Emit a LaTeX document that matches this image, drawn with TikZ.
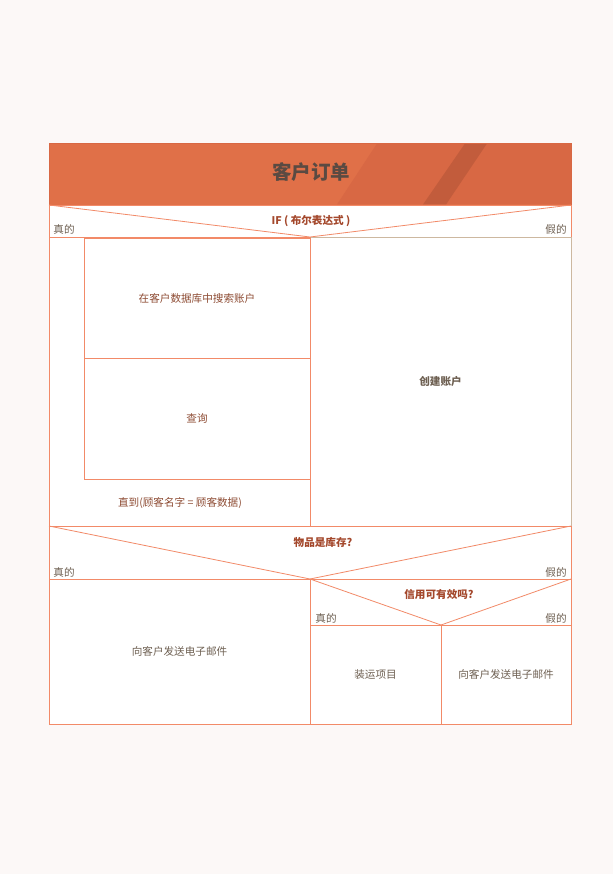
\documentclass[tikz,border=0pt]{standalone}
\usepackage{fontspec}
\setmainfont{Noto Sans CJK SC}
\definecolor{bgc}{HTML}{FCF8F7}
\definecolor{hdr}{HTML}{E07048}
\definecolor{hdrdark}{HTML}{D86844}
\definecolor{stripe}{HTML}{C25C3C}
\definecolor{edge}{HTML}{F28A68}
\definecolor{tan}{HTML}{CDB8A0}
\definecolor{qtext}{HTML}{A4482C}
\definecolor{btext}{HTML}{8E4C34}
\definecolor{gtext}{HTML}{6E6052}
\definecolor{ttext}{HTML}{5A4A42}
\tikzset{
  box/.style={draw=edge, line width=0.9pt, fill=white, inner sep=0pt, outer sep=0pt, anchor=north west, font=\fontsize{10.6}{12}\selectfont, text=btext},
  lbl/.style={inner sep=0pt, font=\fontsize{10.6}{12}\selectfont, text=gtext},
  qlbl/.style={inner sep=0pt, font=\fontsize{10.6}{12}\selectfont\bfseries, text=qtext},
  tri/.style={draw=edge, line width=0.8pt}
}
\begin{document}
\begin{tikzpicture}[x=1pt,y=-1pt]
\useasboundingbox[fill=bgc] (0,0) rectangle (613,874);
% header
\node[box, draw=hdrdark, fill=hdr, minimum width=522pt, minimum height=62pt] (hdr) at (49,143) {};
\fill[hdrdark] (377,143.5) -- (570.5,143.5) -- (570.5,204.5) -- (337,204.5) -- cycle;
\fill[stripe] (465,143.5) -- (487,143.5) -- (446,204.5) -- (423,204.5) -- cycle;
\draw[hdrdark, line width=0.9pt] (hdr.north west) rectangle (hdr.south east);
\node[inner sep=0pt, font=\fontsize{19.5}{22}\selectfont\bfseries, text=ttext] (title) at (311,172) {客户订单};
% IF row
\node[box, minimum width=522pt, minimum height=32pt] (ifrow) at (49,205) {};
\coordinate (ifv) at (310,237);
\draw[tri] (ifrow.north west) -- (ifv) -- (ifrow.north east);
\node[qlbl] (ifq) at (311,221) {IF ( 布尔表达式 )};
\node[lbl] (t1) at (64,229) {真的};
\node[lbl] (f1) at (556,229) {假的};
% body
\node[box, minimum width=261pt, minimum height=289pt] (leftcol) at (49,237) {};
\node[box, draw=tan, minimum width=261pt, minimum height=289pt, text=gtext, font=\fontsize{10.6}{12}\selectfont\bfseries] (create) at (310,237) {创建账户};
\draw[edge, line width=0.9pt] (create.north west) -- (create.south west) -- (create.south east);
\node[box, minimum width=226pt, minimum height=120pt] (search) at (84,238) {在客户数据库中搜索账户};
\node[box, minimum width=226pt, minimum height=121pt] (query) at (84,358) {查询};
\node[lbl, text=btext] (until) at (180,503) {直到(顾客名字 = 顾客数据)};
% stock row
\node[box, minimum width=522pt, minimum height=53pt] (stock) at (49,526) {};
\coordinate (stv) at (310,579);
\draw[tri] (stock.north west) -- (stv) -- (stock.north east);
\node[qlbl] (stq) at (323,542) {物品是库存?};
\node[lbl] (t2) at (64,572) {真的};
\node[lbl] (f2) at (556,572) {假的};
% bottom
\node[box, minimum width=261pt, minimum height=145pt, text=gtext] (mail1) at (49,579) {向客户发送电子邮件};
\node[box, minimum width=261pt, minimum height=46pt] (credit) at (310,579) {};
\coordinate (crv) at (441,625);
\draw[tri] (credit.north west) -- (crv) -- (credit.north east);
\node[qlbl] (crq) at (439,594) {信用可有效吗?};
\node[lbl] (t3) at (326,618) {真的};
\node[lbl] (f3) at (556,618) {假的};
\node[box, minimum width=131pt, minimum height=99pt, text=gtext] (ship) at (310,625) {装运项目};
\node[box, minimum width=130pt, minimum height=99pt, text=gtext] (mail2) at (441,625) {向客户发送电子邮件};
\end{tikzpicture}
\end{document}
